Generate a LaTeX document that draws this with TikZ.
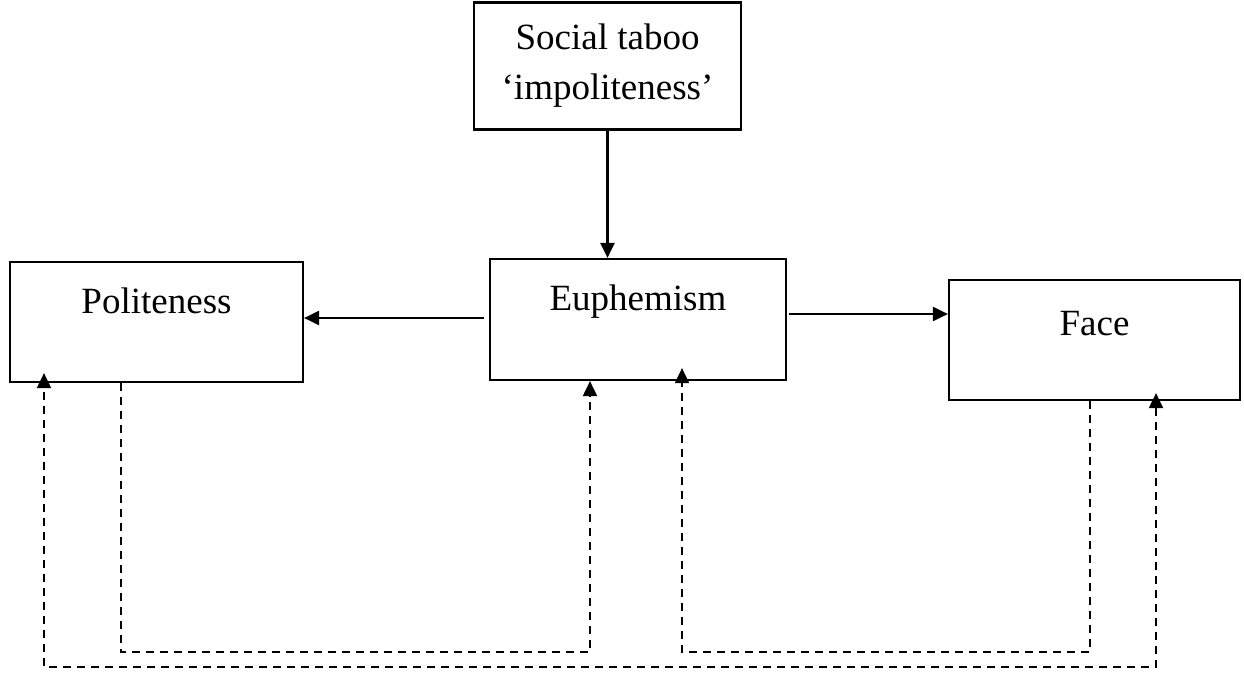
\documentclass[tikz,border=0pt]{standalone}
\usepackage{fontspec}
\setmainfont{Liberation Serif}
\usetikzlibrary{arrows.meta}
\tikzset{
  boxnode/.style={draw, line width=2.2pt, minimum width=#1, inner sep=0pt},
  txt/.style={font=\fontsize{37}{50}\selectfont, inner sep=0pt, align=center},
  arr/.style={line width=2.2pt, -{Triangle[length=15pt,width=14pt]}},
  dsh/.style={line width=2pt, dash pattern=on 8pt off 6pt},
  dsharr/.style={dsh, -{Triangle[length=15pt,width=14pt]}},
  dsharr2/.style={dsh, {Triangle[length=15pt,width=14pt]}-{Triangle[length=15pt,width=14pt]}}
}
\begin{document}
\begin{tikzpicture}[x=1pt,y=-1pt]
\useasboundingbox (0,0) rectangle (1244,677);
% boxes
\node[boxnode=267pt, minimum height=127pt] (taboo) at (607.5,66) {};
\node[boxnode=293pt, minimum height=120pt] (pol) at (156.5,322) {};
\node[boxnode=296pt, minimum height=121pt] (euph) at (638,319.5) {};
\node[boxnode=291pt, minimum height=120pt] (face) at (1094.5,340) {};
% texts
\node[txt] (tabootxt) at (607.5,66) {Social taboo\\‘impoliteness’};
\node[txt, anchor=base] (poltxt) at (156.5,313) {Politeness};
\node[txt, anchor=base] (euphtxt) at (638,310) {Euphemism};
\node[txt, anchor=base] (facetxt) at (1094.5,335) {Face};
% solid arrows
\draw[arr] (taboo.south) -- (taboo.south |- euph.north);
\draw[arr] ([xshift=-5pt,yshift=1.5pt]euph.west) -- (pol.east |- 0,318);
\draw[arr] ([xshift=2pt,yshift=5.5pt]euph.east) -- (face.west |- 0,314);
% dashed connectors
\coordinate (d1s) at ([xshift=-35.5pt]pol.south);
\coordinate (d1e) at ([xshift=-48pt]euph.south);
\draw[dsharr] (d1s) -- (121,652) -| (d1e);
\coordinate (d2s) at ([xshift=-4.5pt]face.south);
\coordinate (d2e) at ([xshift=44pt,yshift=13pt]euph.south);
\draw[dsharr] (d2s) -- (1090,652) -| (d2e);
\coordinate (d3s) at ([xshift=61.5pt,yshift=8pt]face.south);
\coordinate (d3e) at ([xshift=-112.5pt,yshift=10pt]pol.south);
\draw[dsharr2] (d3s) -- (1156,667) -| (d3e);
\end{tikzpicture}
\end{document}
